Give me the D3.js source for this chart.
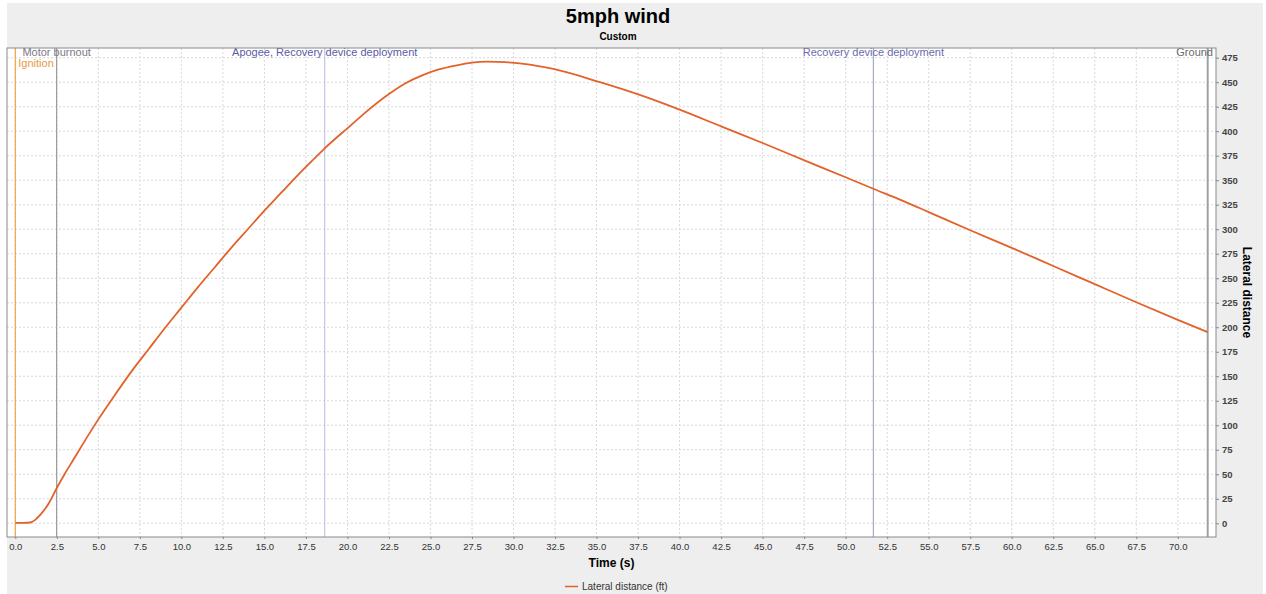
<!DOCTYPE html>
<html>
  <head>
    <meta charset="utf-8">
    <title>5mph wind</title>
    <script src="https://d3js.org/d3.v7.min.js"></script>
    <style>
      body { margin: 0; background: #fff; }
      text { font-family: "Liberation Sans", Arial, sans-serif; }
    </style>
  </head>
  <body>
    <script>
      // ==================
      // data
      // ==================
      const times = [0, 0.5, 0.9, 1.2, 1.5, 2.0, 2.5, 3.0, 3.5, 4.0, 5.0, 6.0, 7.0, 8.0,
        9.0, 10, 11, 12, 13, 14, 15, 16, 17, 18, 18.6, 20.2, 21, 22.5, 23.5, 24.5,
        25.5, 26.5, 27.5, 28.4, 29.5, 30.5, 31.5, 32.4, 35.2, 37.6, 40, 42.5, 45,
        47.7, 50, 51.7, 53.3, 55, 57.5, 60, 62.5, 65, 67.5, 70, 71.8];
      const lateral = [0.5, 0.5, 0.8, 3.5, 8.5, 20, 36, 51, 65, 79, 106, 131, 155, 177,
        199, 220, 241, 261, 281, 300, 319, 337, 355, 372, 382, 406, 418, 438, 449, 457,
        463, 467, 470, 471, 470.5, 469, 466.5, 463.5, 450, 437, 422, 405, 388,
        369, 353, 341, 330, 317.5, 299, 281, 262.5, 244, 225.5, 207.5, 195];

      const eventNames = ["Ignition", "Motor burnout", "Apogee, Recovery device deployment",
        "Recovery device deployment", "Ground"];
      const eventTimes = [0, 2.49, 18.63, 51.67, 71.8];
      const eventColors = ["#f0a448", "#9a9a9a", "#c4c4e4", "#a8a8c8", "#a0a0a0"];
      const eventTextColors = ["#e89a40", "#7a7a86", "#5a5aa8", "#6a6ab0", "#6a6a6a"];

      const xTicks = d3.range(0, 70.01, 2.5);
      const yTicks = d3.range(0, 476, 25);

      // ==================
      // layout
      // ==================
      const width = 1266;
      const height = 594;
      const plot = {left: 7, right: 1216, top: 48, bottom: 537};

      const svg = d3.select("body")
        .append("svg")
          .attr("width", width)
          .attr("height", height);

      svg.append("rect")
        .attr("x", 7).attr("y", 3)
        .attr("width", 1256).attr("height", 591)
        .attr("fill", "#eeeeee");

      const xScale = d3.scaleLinear()
        .domain([-0.5, 72.3])
        .range([plot.left, plot.right]);

      const yScale = d3.scaleLinear()
        .domain([-14, 484.9])
        .range([plot.bottom, plot.top]);

      svg.append("rect")
        .attr("x", plot.left).attr("y", plot.top)
        .attr("width", plot.right - plot.left)
        .attr("height", plot.bottom - plot.top)
        .attr("fill", "#ffffff");

      // grid
      const grid = svg.append("g").attr("class", "grid");
      xTicks.forEach(function(t) {
        grid.append("line")
          .attr("x1", xScale(t)).attr("x2", xScale(t))
          .attr("y1", plot.top).attr("y2", plot.bottom)
          .attr("stroke", "#d8d8d8")
          .attr("stroke-dasharray", "2,2");
      });
      yTicks.forEach(function(v) {
        grid.append("line")
          .attr("x1", plot.left).attr("x2", plot.right)
          .attr("y1", yScale(v)).attr("y2", yScale(v))
          .attr("stroke", "#d8d8d8")
          .attr("stroke-dasharray", "2,2");
      });

      // event markers
      const events = svg.append("g").attr("class", "events");
      eventTimes.forEach(function(t, i) {
        events.append("line")
          .attr("x1", xScale(t)).attr("x2", xScale(t))
          .attr("y1", plot.top).attr("y2", plot.bottom)
          .attr("stroke", eventColors[i])
          .attr("stroke-width", i === 4 ? 2 : 1.2);
      });
      eventTimes.forEach(function(t, i) {
        // ignition label sits one row lower so it doesn't run into "Motor burnout"
        const label = events.append("text")
          .attr("y", i === 0 ? 67 : 56)
          .attr("font-size", "11px")
          .attr("fill", eventTextColors[i])
          .text(eventNames[i]);
        const w = label.node().getComputedTextLength();
        let x = xScale(t) - w / 2;
        x = Math.max(plot.left + 4, Math.min(x, plot.right - 3 - w));
        if (i === 0) x = xScale(t) + 3;
        label.attr("x", x);
      });

      // lateral distance line
      const line = d3.line()
        .x(function(d, i) { return xScale(times[i]); })
        .y(function(d) { return yScale(d); })
        .curve(d3.curveMonotoneX);

      svg.append("path")
        .attr("d", line(lateral))
        .attr("fill", "none")
        .attr("stroke", "#e2622a")
        .attr("stroke-width", 1.8);

      // plot border
      svg.append("rect")
        .attr("x", plot.left).attr("y", plot.top)
        .attr("width", plot.right - plot.left)
        .attr("height", plot.bottom - plot.top)
        .attr("fill", "none")
        .attr("stroke", "#8a8a8a");

      // axes
      const xAxis = d3.axisBottom(xScale)
        .tickValues(xTicks)
        .tickFormat(d3.format(".1f"))
        .tickSize(2)
        .tickPadding(4);

      const yAxis = d3.axisRight(yScale)
        .tickValues(yTicks)
        .tickSize(3)
        .tickPadding(3);

      const gx = svg.append("g")
        .attr("transform", "translate(0," + plot.bottom + ")")
        .call(xAxis);
      gx.select(".domain").remove();
      gx.selectAll("line").attr("stroke", "#888");
      gx.selectAll("text")
        .attr("font-size", "9.5px")
        .attr("fill", "#333");

      const gy = svg.append("g")
        .attr("transform", "translate(" + plot.right + ",0)")
        .call(yAxis);
      gy.select(".domain").remove();
      gy.selectAll("line").attr("stroke", "#888");
      gy.selectAll("text")
        .attr("font-size", "9.5px")
        .attr("font-weight", "bold")
        .attr("fill", "#444");

      // titles
      svg.append("text")
        .attr("x", 618).attr("y", 23)
        .attr("text-anchor", "middle")
        .attr("font-size", "20px")
        .attr("font-weight", "bold")
        .text("5mph wind");

      svg.append("text")
        .attr("x", 618).attr("y", 40)
        .attr("text-anchor", "middle")
        .attr("font-size", "10px")
        .attr("font-weight", "bold")
        .text("Custom");

      svg.append("text")
        .attr("x", (plot.left + plot.right) / 2).attr("y", 567)
        .attr("text-anchor", "middle")
        .attr("font-size", "12px")
        .attr("font-weight", "bold")
        .text("Time (s)");

      svg.append("text")
        .attr("transform", "translate(1243," + (plot.top + plot.bottom) / 2 + ") rotate(90)")
        .attr("text-anchor", "middle")
        .attr("font-size", "12px")
        .attr("font-weight", "bold")
        .text("Lateral distance");

      // legend
      svg.append("line")
        .attr("x1", 565).attr("x2", 578)
        .attr("y1", 586.5).attr("y2", 586.5)
        .attr("stroke", "#e2622a")
        .attr("stroke-width", 1.5);

      svg.append("text")
        .attr("x", 582).attr("y", 590)
        .attr("font-size", "10px")
        .attr("fill", "#333")
        .text("Lateral distance (ft)");
    </script>
  </body>
</html>
